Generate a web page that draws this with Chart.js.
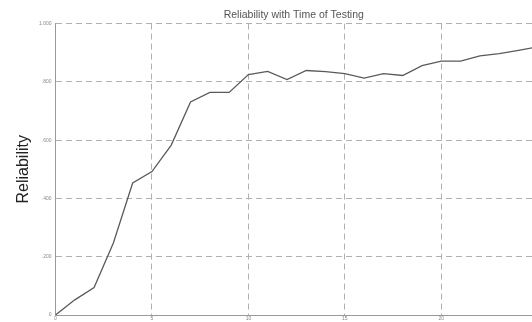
<!DOCTYPE html>
<html>
<head>
<meta charset="utf-8">
<script src="https://cdn.jsdelivr.net/npm/chart.js@4/dist/chart.umd.min.js"></script>
<style>
  html, body { margin: 0; padding: 0; background: #fff; }
  canvas { display: block; }
</style>
</head>
<body>
<canvas id="grafico" width="532" height="322"></canvas>
<script>
// Reliability vs. testing time
const tempos = [0, 1, 2, 3, 4, 5, 6, 7, 8, 9, 10, 11, 12, 13, 14, 15, 16, 17, 18, 19, 20, 21, 22, 23, 24, 25];
const confiab = [0, 0.052, 0.094, 0.247, 0.453, 0.492, 0.583, 0.731, 0.764, 0.764, 0.825, 0.836, 0.808, 0.839, 0.835,
  0.828, 0.813, 0.828, 0.822, 0.856, 0.871, 0.871, 0.889, 0.897, 0.908, 0.92];
const xTicks = [0, 5, 10, 15, 20];
const yTicks = [0, 0.2, 0.4, 0.6, 0.8, 1];

const cinza = "#b0b0b0";
const fmtY = (v) => (v === 0 ? "0" : v >= 1 ? "1.000" : v.toFixed(3).slice(1));

new Chart(document.getElementById("grafico"), {
  type: "line",
  data: {
    datasets: [{
      data: tempos.map((t, i) => ({ x: t, y: confiab[i] })),
      borderColor: "#5a5a5a", borderWidth: 1.3, pointRadius: 0, tension: 0, fill: false,
    }],
  },
  options: {
    responsive: false, animation: false,
    layout: { padding: 0 },
    plugins: {
      legend: { display: false }, tooltip: { enabled: false },
      title: {
        display: true, fullSize: false, text: "Reliability with Time of Testing",
        color: "#555", font: { family: "Liberation Sans", size: 10.5, weight: "normal" }, padding: { top: 9, bottom: 2 },
      },
    },
    scales: {
      x: {
        type: "linear", min: 0, max: 24.7,
        afterBuildTicks: (s) => { s.ticks = xTicks.map((v) => ({ value: v })); },
        afterFit: (s) => { s.height = 6.3; },
        ticks: { font: { size: 5, family: "Liberation Sans" }, color: "#888", padding: 1, maxRotation: 0 },
        grid: { color: cinza, drawTicks: false, tickLength: 0 },
        border: { display: true, color: "#999", width: 1, dash: [6, 4] },
      },
      y: {
        min: 0, max: 1,
        afterBuildTicks: (s) => { s.ticks = yTicks.map((v) => ({ value: v })); },
        afterFit: (s) => { s.width = 55.5; },
        ticks: { font: { size: 5, family: "Liberation Sans" }, color: "#888", padding: 4, callback: fmtY },
        grid: { color: cinza, drawTicks: false, tickLength: 0 },
        border: { display: true, color: "#999", width: 1, dash: [6, 4] },
        title: {
          display: true, text: "Reliability", color: "#222",
          font: { family: "Liberation Sans", size: 16 }, padding: { top: 14, bottom: 0 },
        },
      },
    },
  },
});
</script>
</body>
</html>
